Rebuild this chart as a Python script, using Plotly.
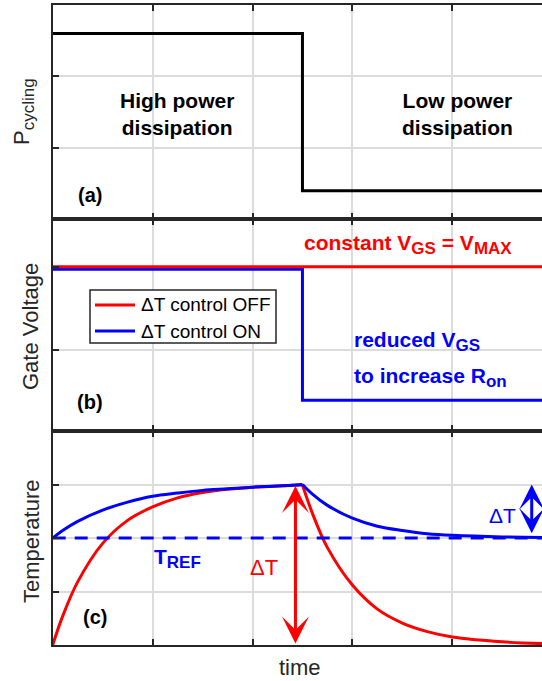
import plotly.graph_objects as go

# ---------------- data ----------------
# Panel (a): power cycling profile
time_a = [0, 2.5, 5.0]
p_cycling = [2.6, 0.4, 0.4]

# Panel (b): gate voltage
time_b = [0, 2.5, 5.0]
vgs_off = [2.0, 2.0, 2.0]
vgs_on = [1.97, 0.4, 0.4]
legend_names = ["\u0394T control OFF", "\u0394T control ON"]

# Panel (c): temperature (heating part and cooling part)
time_rise = [0, 0.1, 0.25, 0.5, 0.75, 1.0, 1.25, 1.5, 1.75, 2.0, 2.25, 2.5]
temp_off_rise = [0, 0.54, 1.18, 1.90, 2.33, 2.58, 2.75, 2.85, 2.91, 2.95, 2.97, 2.99]
temp_on_rise = [2.0, 2.14, 2.31, 2.52, 2.67, 2.78, 2.84, 2.89, 2.92, 2.95, 2.97, 3.0]
time_fall = [2.5, 2.6, 2.75, 3.0, 3.25, 3.5, 3.75, 4.0, 4.5, 5.0]
temp_off_fall = [2.99, 2.46, 1.82, 1.12, 0.67, 0.41, 0.25, 0.15, 0.06, 0.02]
temp_on_fall = [3.0, 2.82, 2.61, 2.37, 2.22, 2.14, 2.08, 2.05, 2.02, 2.01]
t_ref_time = [0, 5.0]
t_ref_level = [2.0, 2.0]

# delta-T arrows (x position, bottom, top)
dT_off = (2.43, 0.0, 2.97)
dT_on = (4.795, 2.06, 3.0)

# ---------------- layout helpers ----------------
W, H = 542, 681
FONT = "Liberation Sans, Arial, sans-serif"
RED = "#ff0000"
BLUE = "#0000ff"
AX = "#262626"


def px(x):
    return x / W


def py(y):
    return 1 - y / H


def sub(s, size=17):
    return "<sub><span style='font-size:%dpx'>%s</span></sub>" % (size, s)


X0 = 52.7
XR = [0, (W - X0) / 99.9]

fig = go.Figure()

# panel (a)
fig.add_trace(go.Scatter(x=time_a, y=p_cycling, mode="lines",
                         line=dict(color="black", width=3, shape="hv"),
                         xaxis="x", yaxis="y", showlegend=False))
# panel (b)
fig.add_trace(go.Scatter(x=time_b, y=vgs_on, mode="lines", name=legend_names[1],
                         line=dict(color=BLUE, width=3, shape="hv"),
                         xaxis="x2", yaxis="y2", showlegend=False))
fig.add_trace(go.Scatter(x=time_b, y=vgs_off, mode="lines", name=legend_names[0],
                         line=dict(color=RED, width=3, shape="hv"),
                         xaxis="x2", yaxis="y2", showlegend=False))
# panel (c)
for tx, ty, col in [(time_rise, temp_off_rise, RED), (time_fall, temp_off_fall, RED),
                    (time_rise, temp_on_rise, BLUE), (time_fall, temp_on_fall, BLUE)]:
    fig.add_trace(go.Scatter(x=tx, y=ty, mode="lines",
                             line=dict(color=col, width=3, shape="spline"),
                             xaxis="x3", yaxis="y3", showlegend=False))
fig.add_trace(go.Scatter(x=t_ref_time, y=t_ref_level, mode="lines",
                         line=dict(color=BLUE, width=3, dash="13px,9px"),
                         xaxis="x3", yaxis="y3", showlegend=False))

common = dict(showline=True, linecolor=AX, linewidth=2, ticks="inside", ticklen=6,
              tickwidth=2, tickcolor=AX, showticklabels=False, showgrid=True,
              gridcolor="#dcdcdc", gridwidth=1.5, zeroline=False)
xc = dict(common, range=XR, domain=[px(X0), 1], tickvals=[0, 1, 2, 3, 4, 5], mirror="ticks")

fig.update_layout(
    width=W, height=H, margin=dict(l=0, r=0, t=0, b=0),
    paper_bgcolor="white", plot_bgcolor="white", showlegend=False,
    font=dict(family=FONT, color="black"),
    xaxis=dict(xc, anchor="y"),
    xaxis2=dict(xc, anchor="y2"),
    xaxis3=dict(xc, anchor="y3"),
    yaxis=dict(common, domain=[py(219.3), py(5)], range=[0, 3], tickvals=[0, 1, 2, 3], anchor="x"),
    yaxis2=dict(common, domain=[py(431), py(219.3)], range=[0.03, 2.57], tickvals=[0, 1, 2], anchor="x2"),
    yaxis3=dict(common, domain=[py(645), py(431)], range=[0, 4], tickvals=[0, 1, 2, 3, 4], anchor="x3"),
)

# manual legend box (MATLAB style)
shapes = [dict(type="rect", xref="paper", yref="paper", x0=px(90), x1=px(276), y0=py(343), y1=py(290),
               line=dict(color=AX, width=1.5), fillcolor="white", layer="above")]
anns = []
for i, (name, col) in enumerate(zip(legend_names, [RED, BLUE])):
    yy = 305 + 26 * i
    shapes.append(dict(type="line", xref="paper", yref="paper", x0=px(95), x1=px(135),
                       y0=py(yy), y1=py(yy), line=dict(color=col, width=3), layer="above"))
    anns.append(dict(text=name, x=px(139), y=py(yy), xref="paper", yref="paper", showarrow=False,
                     xanchor="left", yanchor="middle", font=dict(family=FONT, size=19, color="black")))


def ann(text, x, y, size, color="black", bold=False, xanchor="center", yanchor="middle", angle=0):
    if bold:
        text = "<b>" + text + "</b>"
    anns.append(dict(text=text, x=px(x), y=py(y), xref="paper", yref="paper",
                     showarrow=False, xanchor=xanchor, yanchor=yanchor, textangle=angle,
                     font=dict(family=FONT, size=size, color=color)))


# axis titles
ann("P" + sub("cycling", 17), 24, 112, 22, AX, angle=-90)
ann("Gate Voltage", 31, 327, 22, AX, angle=-90)
ann("Temperature", 31, 541, 22, AX, angle=-90)
ann("time", 300, 667, 22, AX)

# panel labels
ann("(a)", 90, 195, 20, bold=True)
ann("(b)", 90, 402, 20, bold=True)
ann("(c)", 95, 617, 20, bold=True)

# panel (a) texts
ann("High power<br>dissipation", 177, 114, 21, bold=True)
ann("Low power<br>dissipation", 457, 114, 21, bold=True)

# panel (b) texts
ann("constant V" + sub("GS") + " = V" + sub("MAX"), 302, 244, 21, RED, bold=True, xanchor="left")
ann("reduced V" + sub("GS"), 352, 341, 21, BLUE, bold=True, xanchor="left")
ann("to increase R" + sub("on"), 352, 377, 21, BLUE, bold=True, xanchor="left")

# panel (c) texts
ann("T" + sub("REF"), 152, 558, 21, BLUE, bold=True, xanchor="left")
ann("\u0394T", 264, 567, 22, RED)
ann("\u0394T", 502, 515, 21, BLUE)

# arrows
for (xa, yb, yt), col, sz in [(dT_off, RED, 1.5), (dT_on, BLUE, 1.4)]:
    anns.append(dict(x=xa, y=yt, ax=xa, ay=yb, xref="x3", yref="y3", axref="x3", ayref="y3",
                     text="", showarrow=True, arrowside="end+start", arrowhead=3,
                     startarrowhead=3, arrowsize=sz, startarrowsize=sz, arrowwidth=3,
                     arrowcolor=col, standoff=0, startstandoff=0))

fig.update_layout(annotations=anns, shapes=shapes)
fig.write_html("out.html")
